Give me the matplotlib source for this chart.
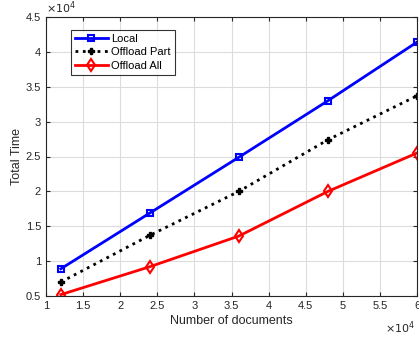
import numpy as np
import matplotlib.pyplot as plt
from matplotlib.ticker import FuncFormatter, MultipleLocator

plt.rcParams['font.family'] = ['Liberation Sans', 'DejaVu Sans']
plt.rcParams['font.size'] = 8

docs = [12000, 24000, 36000, 48000, 60000]
local = [8900, 16900, 24900, 33000, 41400]
offload_part = [7000, 13700, 20000, 27400, 33700]
offload_all = [5200, 9200, 13600, 20000, 25500]

fig = plt.figure(figsize=(4.19, 3.37), dpi=100)
ax = fig.add_axes([46 / 419, 41 / 337, 371 / 419, 279 / 337])

ax.plot(docs, local, '-s', color='blue', lw=2, ms=5, mfc='none', mew=1.5, label='Local')
ax.plot(docs, offload_part, ':P', color='black', lw=2, ms=5, label='Offload Part')
ax.plot(docs, offload_all, '-d', color='red', lw=2, ms=6, mfc='none', mew=1.5, label='Offload All')

ax.set_xlim(10000, 60000)
ax.set_ylim(5000, 45000)
ax.xaxis.set_major_locator(MultipleLocator(5000))
ax.yaxis.set_major_locator(MultipleLocator(5000))
fmt = FuncFormatter(lambda v, p: '%g' % (v / 1e4))
ax.xaxis.set_major_formatter(fmt)
ax.yaxis.set_major_formatter(fmt)

ax.grid(True, color='#dcdcdc', lw=0.8)
ax.set_axisbelow(True)
ax.tick_params(direction='in', top=True, right=True, length=3, colors='#262626', labelsize=8)
for s in ax.spines.values():
    s.set_color('#262626')
    s.set_linewidth(0.8)

ax.set_xlabel('Number of documents', color='#262626', fontsize=9, labelpad=3)
ax.set_ylabel('Total Time', color='#262626', fontsize=9, labelpad=2)
ax.text(0.0, 1.005, r'$\times10^4$', transform=ax.transAxes, ha='left', va='bottom', color='#262626', fontsize=8)
ax.text(0.995, -0.085, r'$\times10^4$', transform=ax.transAxes, ha='right', va='top', color='#262626', fontsize=8)

leg = ax.legend(loc='upper left', bbox_to_anchor=(0.067, 0.953), borderaxespad=0, frameon=True,
                fancybox=False, edgecolor='black', fontsize=8, handlelength=3, handletextpad=0.3,
                borderpad=0.35, labelspacing=0.3)
leg.get_frame().set_linewidth(0.8)

fig.savefig('out.png', dpi=100)
